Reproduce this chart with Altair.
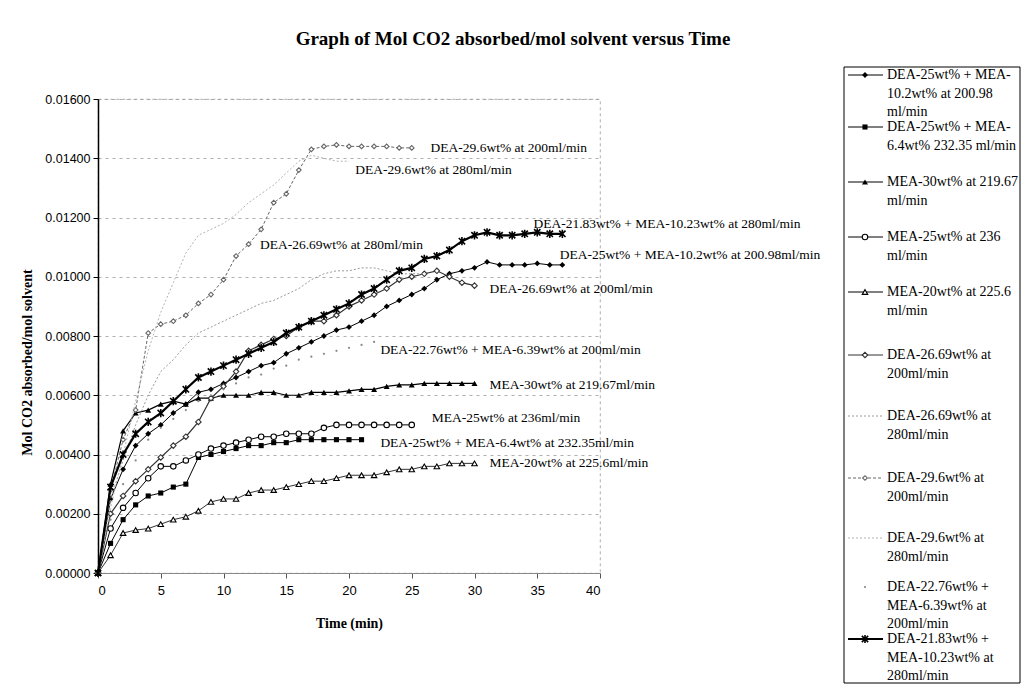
import altair as alt
import pandas as pd

# ---------------- data ----------------
s_dea25_mea102 = [0, 0.0025, 0.0035, 0.0043, 0.0047, 0.0050, 0.0054, 0.0057, 0.0061, 0.0062, 0.0064,
                  0.0066, 0.0068, 0.0070, 0.0071, 0.0074, 0.0076, 0.0078, 0.0080, 0.0082, 0.0083,
                  0.0085, 0.0087, 0.0090, 0.0092, 0.0094, 0.0096, 0.0099, 0.0101, 0.0102, 0.0103,
                  0.0105, 0.0104, 0.0104, 0.0104, 0.01045, 0.0104, 0.0104]
s_dea25_mea64 = [0, 0.0010, 0.0018, 0.0023, 0.0026, 0.0027, 0.0029, 0.0030, 0.0039, 0.0040, 0.0041,
                 0.0042, 0.0043, 0.0043, 0.0044, 0.0044, 0.0045, 0.0045, 0.0045, 0.0045, 0.0045, 0.0045]
s_mea30 = [0, 0.0030, 0.0048, 0.0054, 0.0055, 0.0057, 0.0058, 0.0057, 0.0059, 0.0059, 0.0060,
           0.0060, 0.0060, 0.0061, 0.0061, 0.0060, 0.0060, 0.0061, 0.0061, 0.0061, 0.00615,
           0.0062, 0.0062, 0.0063, 0.00635, 0.00635, 0.0064, 0.0064, 0.0064, 0.0064, 0.0064]
s_mea25 = [0, 0.0015, 0.0022, 0.0027, 0.0032, 0.0036, 0.0036, 0.0038, 0.0040, 0.0042, 0.0043,
           0.0044, 0.0045, 0.0046, 0.0046, 0.0047, 0.0047, 0.0047, 0.0049, 0.0050, 0.0050,
           0.0050, 0.0050, 0.0050, 0.0050, 0.0050]
s_mea20 = [0, 0.0006, 0.00135, 0.00145, 0.0015, 0.00165, 0.0018, 0.0019, 0.0021, 0.0024, 0.0025,
           0.0025, 0.0027, 0.0028, 0.0028, 0.0029, 0.0030, 0.0031, 0.0031, 0.0032, 0.0033,
           0.0033, 0.0033, 0.0034, 0.0035, 0.0035, 0.0036, 0.0036, 0.0037, 0.0037, 0.0037]
s_dea2669_200 = [0, 0.0020, 0.0026, 0.0031, 0.0035, 0.0039, 0.0043, 0.0046, 0.0051, 0.0059, 0.0063,
                 0.0068, 0.0075, 0.0077, 0.0079, 0.0080, 0.0083, 0.0085, 0.0085, 0.0087, 0.0090,
                 0.0092, 0.0094, 0.0096, 0.0099, 0.0100, 0.0101, 0.0102, 0.0100, 0.0098, 0.0097]
s_dea2669_280 = [0, 0.0025, 0.0038, 0.0050, 0.0060, 0.0068, 0.0072, 0.0077, 0.0081, 0.0083, 0.0085,
                 0.0087, 0.0089, 0.0091, 0.0092, 0.0094, 0.0096, 0.0099, 0.0101, 0.0102, 0.0102,
                 0.0103, 0.0103, 0.0102, 0.0101, 0.0101, 0.0101]
s_dea296_200 = [0, 0.0028, 0.0045, 0.0055, 0.0081, 0.0084, 0.0085, 0.0087, 0.0091, 0.0094, 0.0099,
                0.0107, 0.0111, 0.0116, 0.0125, 0.0128, 0.0136, 0.0143, 0.0144, 0.01445, 0.0144,
                0.0144, 0.0144, 0.0144, 0.01435, 0.01435]
s_dea296_280 = [0, 0.0022, 0.0040, 0.0058, 0.0075, 0.0088, 0.0098, 0.0108, 0.0114, 0.0116, 0.0118,
                0.0121, 0.0125, 0.0128, 0.0131, 0.0135, 0.0139, 0.0141, 0.0140, 0.0139, 0.0139]
s_dea2276_mea639 = [0, 0.0018, 0.0030, 0.0038, 0.0045, 0.0049, 0.0052, 0.0055, 0.0058, 0.0060, 0.0062,
                    0.0064, 0.0066, 0.0067, 0.0069, 0.0070, 0.0072, 0.0073, 0.0074, 0.0075, 0.0076,
                    0.0077, 0.0078]
s_dea2183_mea1023 = [0, 0.0029, 0.0040, 0.0047, 0.0051, 0.0054, 0.0058, 0.0062, 0.0066, 0.0068, 0.0070,
                     0.0072, 0.0074, 0.0076, 0.0078, 0.0081, 0.0083, 0.0085, 0.0087, 0.0089, 0.0091,
                     0.0094, 0.0096, 0.0099, 0.0102, 0.0103, 0.0106, 0.0107, 0.0109, 0.0112, 0.0114,
                     0.0115, 0.0114, 0.0114, 0.01145, 0.0115, 0.01145, 0.01145]

legend_texts = [
    ["DEA-25wt% + MEA-", "10.2wt% at 200.98", "ml/min"],
    ["DEA-25wt% + MEA-", "6.4wt% 232.35 ml/min"],
    ["MEA-30wt% at 219.67", "ml/min"],
    ["MEA-25wt% at 236", "ml/min"],
    ["MEA-20wt% at 225.6", "ml/min"],
    ["DEA-26.69wt% at", "200ml/min"],
    ["DEA-26.69wt% at", "280ml/min"],
    ["DEA-29.6wt% at", "200ml/min"],
    ["DEA-29.6wt% at", "280ml/min"],
    ["DEA-22.76wt% +", "MEA-6.39wt% at", "200ml/min"],
    ["DEA-21.83wt% +", "MEA-10.23wt% at", "280ml/min"],
]

label_texts = [
    "DEA-29.6wt% at 200ml/min", "DEA-29.6wt% at 280ml/min", "DEA-26.69wt% at 280ml/min",
    "DEA-21.83wt% + MEA-10.23wt% at 280ml/min", "DEA-25wt% + MEA-10.2wt% at 200.98ml/min",
    "DEA-26.69wt% at 200ml/min", "DEA-22.76wt% + MEA-6.39wt% at 200ml/min",
    "MEA-30wt% at 219.67ml/min", "MEA-25wt% at 236ml/min",
    "DEA-25wt% + MEA-6.4wt% at 232.35ml/min", "MEA-20wt% at 225.6ml/min",
]
label_t = [26.5, 20.5, 12.9, 34.7, 36.8, 31.2, 22.5, 31.2, 26.6, 22.5, 31.2]
label_y = [0.01435, 0.0136, 0.01107, 0.01178, 0.01073, 0.00959, 0.00753, 0.00635, 0.00523, 0.00439, 0.0037]

x_ticks = [0, 5, 10, 15, 20, 25, 30, 35, 40]
y_ticks = [0, 0.002, 0.004, 0.006, 0.008, 0.010, 0.012, 0.014, 0.016]

# ---------------- styles ----------------
ASTER = "M-1,-1L1,1M-1,1L1,-1M0,-1.3L0,1.3"
series = [
    (s_dea25_mea102, dict(color="black", width=1.0, dash=None, shape="diamond", filled=True, size=34)),
    (s_dea25_mea64, dict(color="black", width=1.0, dash=None, shape="square", filled=True, size=26)),
    (s_mea30, dict(color="black", width=1.2, dash=None, shape="triangle-up", filled=True, size=36)),
    (s_mea25, dict(color="black", width=1.0, dash=None, shape="circle", filled=False, size=30)),
    (s_mea20, dict(color="black", width=0.8, dash=None, shape="triangle-up", filled=False, size=30)),
    (s_dea2669_200, dict(color="#333333", width=1.2, dash=None, shape="diamond", filled=False, size=30)),
    (s_dea2669_280, dict(color="#9a9a9a", width=1.0, dash=[2, 2], shape=None, filled=False, size=0)),
    (s_dea296_200, dict(color="#666666", width=1.0, dash=[3, 2], shape="diamond", filled=False, size=22)),
    (s_dea296_280, dict(color="#b4b4b4", width=1.0, dash=[2, 2], shape=None, filled=False, size=0)),
    (s_dea2276_mea639, dict(color="#888888", width=0, dash=None, shape="circle", filled=True, size=5)),
    (s_dea2183_mea1023, dict(color="black", width=2.2, dash=None, shape=ASTER, filled=False, size=40)),
]

W, H = 502, 474
xs = alt.Scale(domain=[0, 40], nice=False, zero=False)
ys = alt.Scale(domain=[0, 0.016], nice=False)

x_axis = alt.Axis(values=x_ticks, title="Time (min)", grid=False, labelFont="Liberation Sans",
                  labelFontSize=13, labelColor="black", labelPadding=6, titleFont="Liberation Serif",
                  titleFontWeight="bold", titleFontSize=14, titleColor="black", titlePadding=19,
                  domainColor="#888888", tickColor="#555555", tickSize=5)
y_axis = alt.Axis(values=y_ticks, format=".5f", title="Mol CO2 absorbed/mol solvent",
                  labelFont="Liberation Sans", labelFontSize=12.5, labelColor="black", labelPadding=3,
                  titleFont="Liberation Serif", titleFontWeight="bold", titleFontSize=14,
                  titleColor="black", titleX=-71, titleY=263, titleBaseline="middle",
                  titleAlign="center", titleAngle=270,
                  domainColor="black", domainWidth=1.5, tickColor="black", tickSize=5,
                  grid=True, gridColor="#9a9a9a", gridDash=[3, 4], gridWidth=0.8)


def X(field):
    return alt.X(field, scale=xs, axis=x_axis)


def Y(field):
    return alt.Y(field, scale=ys, axis=y_axis)


data_layers = []
for vals, st in series:
    df = pd.DataFrame({"t": list(range(len(vals))), "v": vals})
    enc = dict(x=X("t:Q"), y=Y("v:Q"))
    if st["width"] > 0:
        kw = dict(color=st["color"], strokeWidth=st["width"])
        if st["dash"]:
            kw["strokeDash"] = st["dash"]
        data_layers.append(alt.Chart(df).mark_line(**kw).encode(**enc))
    if st["shape"]:
        if st["filled"]:
            pk = dict(shape=st["shape"], filled=True, color=st["color"], size=st["size"], opacity=1)
        elif st["shape"] == ASTER:
            pk = dict(shape=ASTER, filled=False, stroke=st["color"], strokeWidth=1.6,
                      size=st["size"], opacity=1)
        else:
            pk = dict(shape=st["shape"], filled=True, fill="white", stroke=st["color"],
                      strokeWidth=1.1, size=st["size"], opacity=1)
        data_layers.append(alt.Chart(df).mark_point(**pk).encode(**enc))

lab_df = pd.DataFrame({"txt": label_texts, "t": label_t, "v": label_y})
data_layers.append(
    alt.Chart(lab_df).mark_text(align="left", baseline="middle", font="Liberation Serif",
                                fontSize=13.5, color="black").encode(
        x=X("t:Q"), y=Y("v:Q"), text="txt:N")
)

plot = alt.layer(*data_layers).properties(width=W, height=H)

# ---------------- legend box (own pixel scales, right of the plot) ----------------
LW, LH = 177, 616
lxs = alt.Scale(domain=[0, LW], range=[746, 746 + LW])
lys = alt.Scale(domain=[0, LH], range=[-32, -32 + LH])
entry_top = [8, 60, 115, 170, 225, 288, 349, 411, 471, 520, 572]
LINE_H = 18.5

box = alt.Chart(pd.DataFrame({"a": [0], "b": [LW - 1], "c": [0], "d": [LH]})).mark_rect(
    fill="white", stroke="black", strokeWidth=1).encode(
    x=alt.X("a:Q", scale=lxs, axis=None), x2="b:Q",
    y=alt.Y("c:Q", scale=lys, axis=None), y2="d:Q")
leg_layers = [box]
rows = []
for i, (lines, (vals, st)) in enumerate(zip(legend_texts, series)):
    y0 = entry_top[i]
    for k, ln in enumerate(lines):
        rows.append({"txt": ln, "lx": 43, "ly": y0 + k * LINE_H})
    pos = pd.DataFrame({"a": [4], "b": [39], "m": [21], "y": [y0]})
    if st["width"] > 0:
        kw = dict(color=st["color"], strokeWidth=max(st["width"], 1))
        if st["dash"]:
            kw["strokeDash"] = st["dash"]
        leg_layers.append(alt.Chart(pos).mark_rule(**kw).encode(
            x=alt.X("a:Q", scale=lxs, axis=None), x2="b:Q", y=alt.Y("y:Q", scale=lys, axis=None)))
    if st["shape"]:
        if st["filled"]:
            pk = dict(shape=st["shape"], filled=True, color=st["color"], size=st["size"], opacity=1)
        elif st["shape"] == ASTER:
            pk = dict(shape=ASTER, filled=False, stroke=st["color"], strokeWidth=1.6,
                      size=st["size"], opacity=1)
        else:
            pk = dict(shape=st["shape"], filled=True, fill="white", stroke=st["color"],
                      strokeWidth=1.1, size=st["size"], opacity=1)
        leg_layers.append(alt.Chart(pos).mark_point(**pk).encode(
            x=alt.X("m:Q", scale=lxs, axis=None), y=alt.Y("y:Q", scale=lys, axis=None)))

leg_text = alt.Chart(pd.DataFrame(rows)).mark_text(
    align="left", baseline="middle", font="Liberation Serif", fontSize=14, color="black").encode(
    x=alt.X("lx:Q", scale=lxs, axis=None), y=alt.Y("ly:Q", scale=lys, axis=None), text="txt:N")
leg_layers.append(leg_text)
legend = alt.layer(*leg_layers)

chart = alt.layer(plot, legend).resolve_scale(x="independent", y="independent").properties(
    title=alt.TitleParams("Graph of Mol CO2 absorbed/mol solvent versus Time", font="Liberation Serif",
                          fontSize=19, fontWeight="bold", color="black", anchor="middle",
                          dx=164, offset=18),
    padding={"left": 20, "top": 29, "right": 0, "bottom": 0},
    background="white",
).configure_view(stroke="#9a9a9a", strokeDash=[3, 3], strokeWidth=0.8)

chart.save("out.html", embed_options={"renderer": "svg", "actions": False})
